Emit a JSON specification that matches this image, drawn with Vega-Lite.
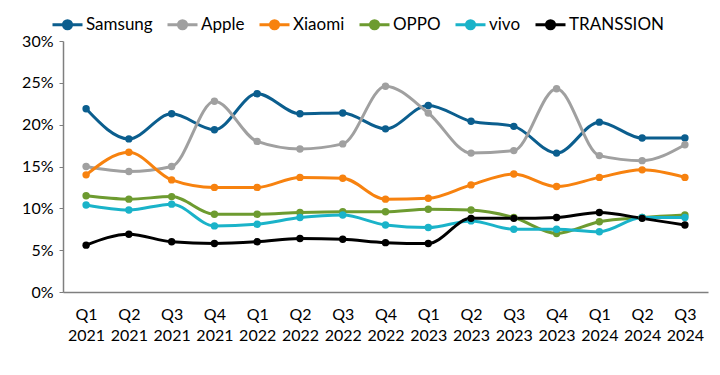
{
  "$schema": "https://vega.github.io/schema/vega-lite/v6.json",
  "width": 645,
  "height": 251,
  "autosize": {"type": "none"},
  "padding": {"left": 63, "top": 41, "right": 12, "bottom": 83},
  "background": "white",
  "config": {
    "view": {"stroke": null},
    "font": "Lato",
    "axis": {"labelFont": "Lato", "labelColor": "#000000", "grid": false, "domainColor": "#7f7f7f", "domainWidth": 1.5, "tickColor": "#7f7f7f"}
  },
  "data": {
    "values": [
      {"q": "Q1 2021", "brand": "Samsung", "share": 21.9},
      {"q": "Q2 2021", "brand": "Samsung", "share": 18.3},
      {"q": "Q3 2021", "brand": "Samsung", "share": 21.3},
      {"q": "Q4 2021", "brand": "Samsung", "share": 19.4},
      {"q": "Q1 2022", "brand": "Samsung", "share": 23.7},
      {"q": "Q2 2022", "brand": "Samsung", "share": 21.3},
      {"q": "Q3 2022", "brand": "Samsung", "share": 21.4},
      {"q": "Q4 2022", "brand": "Samsung", "share": 19.5},
      {"q": "Q1 2023", "brand": "Samsung", "share": 22.3},
      {"q": "Q2 2023", "brand": "Samsung", "share": 20.4},
      {"q": "Q3 2023", "brand": "Samsung", "share": 19.8},
      {"q": "Q4 2023", "brand": "Samsung", "share": 16.6},
      {"q": "Q1 2024", "brand": "Samsung", "share": 20.3},
      {"q": "Q2 2024", "brand": "Samsung", "share": 18.4},
      {"q": "Q3 2024", "brand": "Samsung", "share": 18.4},
      {"q": "Q1 2021", "brand": "Apple", "share": 15.0},
      {"q": "Q2 2021", "brand": "Apple", "share": 14.4},
      {"q": "Q3 2021", "brand": "Apple", "share": 15.0},
      {"q": "Q4 2021", "brand": "Apple", "share": 22.8},
      {"q": "Q1 2022", "brand": "Apple", "share": 18.0},
      {"q": "Q2 2022", "brand": "Apple", "share": 17.1},
      {"q": "Q3 2022", "brand": "Apple", "share": 17.7},
      {"q": "Q4 2022", "brand": "Apple", "share": 24.6},
      {"q": "Q1 2023", "brand": "Apple", "share": 21.4},
      {"q": "Q2 2023", "brand": "Apple", "share": 16.6},
      {"q": "Q3 2023", "brand": "Apple", "share": 16.9},
      {"q": "Q4 2023", "brand": "Apple", "share": 24.3},
      {"q": "Q1 2024", "brand": "Apple", "share": 16.3},
      {"q": "Q2 2024", "brand": "Apple", "share": 15.7},
      {"q": "Q3 2024", "brand": "Apple", "share": 17.6},
      {"q": "Q1 2021", "brand": "Xiaomi", "share": 14.0},
      {"q": "Q2 2021", "brand": "Xiaomi", "share": 16.7},
      {"q": "Q3 2021", "brand": "Xiaomi", "share": 13.4},
      {"q": "Q4 2021", "brand": "Xiaomi", "share": 12.5},
      {"q": "Q1 2022", "brand": "Xiaomi", "share": 12.5},
      {"q": "Q2 2022", "brand": "Xiaomi", "share": 13.7},
      {"q": "Q3 2022", "brand": "Xiaomi", "share": 13.6},
      {"q": "Q4 2022", "brand": "Xiaomi", "share": 11.1},
      {"q": "Q1 2023", "brand": "Xiaomi", "share": 11.2},
      {"q": "Q2 2023", "brand": "Xiaomi", "share": 12.8},
      {"q": "Q3 2023", "brand": "Xiaomi", "share": 14.1},
      {"q": "Q4 2023", "brand": "Xiaomi", "share": 12.6},
      {"q": "Q1 2024", "brand": "Xiaomi", "share": 13.7},
      {"q": "Q2 2024", "brand": "Xiaomi", "share": 14.6},
      {"q": "Q3 2024", "brand": "Xiaomi", "share": 13.7},
      {"q": "Q1 2021", "brand": "OPPO", "share": 11.5},
      {"q": "Q2 2021", "brand": "OPPO", "share": 11.1},
      {"q": "Q3 2021", "brand": "OPPO", "share": 11.4},
      {"q": "Q4 2021", "brand": "OPPO", "share": 9.3},
      {"q": "Q1 2022", "brand": "OPPO", "share": 9.3},
      {"q": "Q2 2022", "brand": "OPPO", "share": 9.5},
      {"q": "Q3 2022", "brand": "OPPO", "share": 9.6},
      {"q": "Q4 2022", "brand": "OPPO", "share": 9.6},
      {"q": "Q1 2023", "brand": "OPPO", "share": 9.9},
      {"q": "Q2 2023", "brand": "OPPO", "share": 9.8},
      {"q": "Q3 2023", "brand": "OPPO", "share": 8.9},
      {"q": "Q4 2023", "brand": "OPPO", "share": 7.0},
      {"q": "Q1 2024", "brand": "OPPO", "share": 8.4},
      {"q": "Q2 2024", "brand": "OPPO", "share": 8.9},
      {"q": "Q3 2024", "brand": "OPPO", "share": 9.2},
      {"q": "Q1 2021", "brand": "vivo", "share": 10.4},
      {"q": "Q2 2021", "brand": "vivo", "share": 9.8},
      {"q": "Q3 2021", "brand": "vivo", "share": 10.5},
      {"q": "Q4 2021", "brand": "vivo", "share": 7.9},
      {"q": "Q1 2022", "brand": "vivo", "share": 8.1},
      {"q": "Q2 2022", "brand": "vivo", "share": 8.9},
      {"q": "Q3 2022", "brand": "vivo", "share": 9.2},
      {"q": "Q4 2022", "brand": "vivo", "share": 8.0},
      {"q": "Q1 2023", "brand": "vivo", "share": 7.7},
      {"q": "Q2 2023", "brand": "vivo", "share": 8.5},
      {"q": "Q3 2023", "brand": "vivo", "share": 7.5},
      {"q": "Q4 2023", "brand": "vivo", "share": 7.5},
      {"q": "Q1 2024", "brand": "vivo", "share": 7.2},
      {"q": "Q2 2024", "brand": "vivo", "share": 8.9},
      {"q": "Q3 2024", "brand": "vivo", "share": 8.9},
      {"q": "Q1 2021", "brand": "TRANSSION", "share": 5.6},
      {"q": "Q2 2021", "brand": "TRANSSION", "share": 6.9},
      {"q": "Q3 2021", "brand": "TRANSSION", "share": 6.0},
      {"q": "Q4 2021", "brand": "TRANSSION", "share": 5.8},
      {"q": "Q1 2022", "brand": "TRANSSION", "share": 6.0},
      {"q": "Q2 2022", "brand": "TRANSSION", "share": 6.4},
      {"q": "Q3 2022", "brand": "TRANSSION", "share": 6.3},
      {"q": "Q4 2022", "brand": "TRANSSION", "share": 5.9},
      {"q": "Q1 2023", "brand": "TRANSSION", "share": 5.8},
      {"q": "Q2 2023", "brand": "TRANSSION", "share": 8.8},
      {"q": "Q3 2023", "brand": "TRANSSION", "share": 8.8},
      {"q": "Q4 2023", "brand": "TRANSSION", "share": 8.9},
      {"q": "Q1 2024", "brand": "TRANSSION", "share": 9.5},
      {"q": "Q2 2024", "brand": "TRANSSION", "share": 8.8},
      {"q": "Q3 2024", "brand": "TRANSSION", "share": 8.0}
    ]
  },
  "encoding": {
    "x": {
      "field": "q", "type": "ordinal", "sort": null, "title": null,
      "scale": {"type": "point", "padding": 0.54},
      "axis": {"labelAngle": 0, "ticks": false, "labelFontSize": 16, "labelPadding": 14, "labelLineHeight": 21, "labelExpr": "split(datum.label, ' ')"}
    },
    "y": {
      "field": "share", "type": "quantitative", "title": null,
      "scale": {"domain": [0, 30], "nice": false},
      "axis": {"values": [0, 5, 10, 15, 20, 25, 30], "labelFontSize": 16, "tickSize": 4, "labelPadding": 6, "labelExpr": "datum.value + '%'"}
    },
    "color": {
      "field": "brand", "type": "nominal", "sort": ["Samsung", "Apple", "Xiaomi", "OPPO", "vivo", "TRANSSION"],
      "scale": {
        "domain": ["Samsung", "Apple", "Xiaomi", "OPPO", "vivo", "TRANSSION"],
        "range": ["#0B5E8E", "#A0A0A0", "#F7820F", "#6D9B30", "#1AB3C9", "#000000"]
      },
      "legend": {
        "title": null, "orient": "none", "direction": "horizontal",
        "legendX": -12, "legendY": -33,
        "labelFontSize": 17, "labelFont": "Lato", "labelColor": "#000000",
        "symbolType": "M-1,0L1,0M-0.27,0A0.27,0.27 0 1,1 0.27,0A0.27,0.27 0 1,1 -0.27,0Z",
        "symbolSize": 900, "symbolStrokeWidth": 3, "columnPadding": 8, "labelOffset": 2
      }
    }
  },
  "layer": [
    {"mark": {"type": "line", "interpolate": "monotone", "strokeWidth": 3}},
    {"mark": {"type": "point", "filled": true, "size": 55, "opacity": 1}}
  ]
}
